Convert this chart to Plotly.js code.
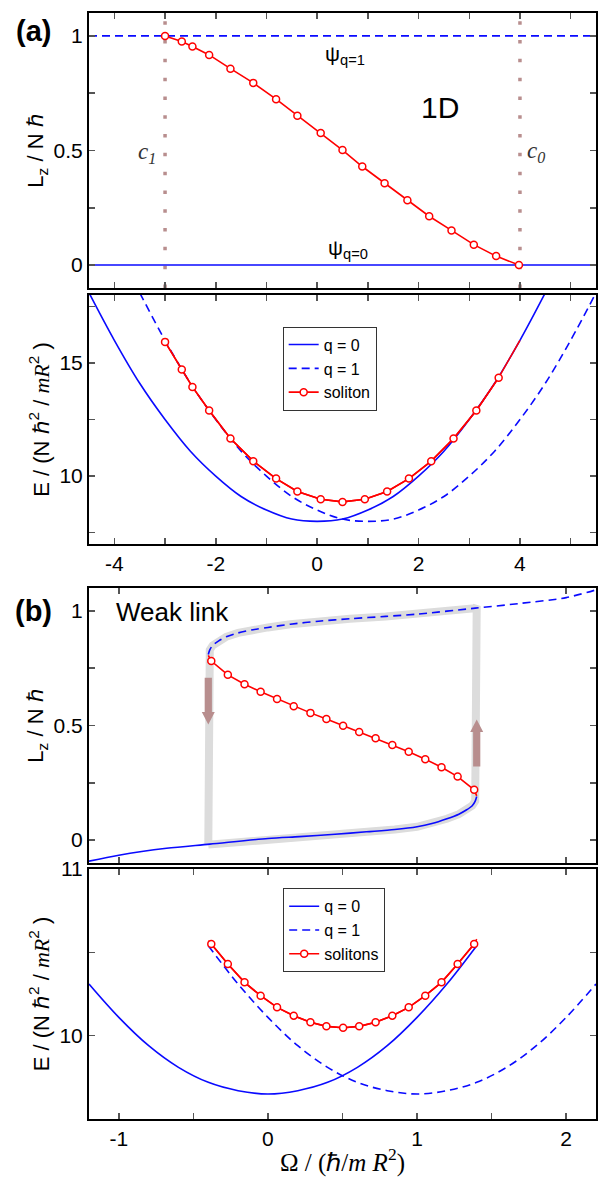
<!DOCTYPE html>
<html>
<head>
<meta charset="utf-8">
<script src="https://cdn.plot.ly/plotly-3.0.1.min.js"></script>
<style>html,body{margin:0;padding:0;background:#fff;}#chart{width:599px;height:1180px;}</style>
</head>
<body>
<div id="chart"></div>
<script>
// ---------- Panel (a) 1D : angular momentum ----------
const omegaSolA_L = [-3.0,-2.67,-2.46,-2.13,-1.71,-1.26,-0.81,-0.39,0.07,0.5,0.89,1.33,1.78,2.21,2.65,3.09,3.53,3.98];
const lzSolA      = [1.0,0.976,0.954,0.917,0.857,0.795,0.724,0.652,0.576,0.502,0.43,0.357,0.283,0.213,0.151,0.089,0.039,0.0];
const criticalOmegaA = [-3, 4];           // c1, c0
const criticalLabelsA = ['<i>c<sub>1</sub></i>', '<i>c<sub>0</sub></i>'];
const lzPlaneWaves = [0, 1];              // psi q=0, psi q=1
const omegaSpanA = [-4.5, 5.5];
const xTicksA = [-4, -2, 0, 2, 4];
const xTickTextA = ['-4', '-2', '0', '2', '4'];

// ---------- Panel (a) 1D : energy ----------
const omegaQ0A = [-4.5,-4,-3.5,-3,-2.5,-2,-1.5,-1,-0.5,0,0.5,1,1.5,2,2.5,3,3.5,4,4.5];
const energyQ0A = [18.1,16.0,14.1,12.5,11.1,10.0,9.1,8.5,8.1,8.0,8.1,8.5,9.1,10.0,11.1,12.5,14.1,16.0,18.1];
const omegaQ1A = [-3.5,-3,-2.5,-2,-1.5,-1,-0.5,0,0.5,1,1.5,2,2.5,3,3.5,4,4.5,5,5.5];
const energyQ1A = [18.1,16.0,14.1,12.5,11.1,10.0,9.1,8.5,8.1,8.0,8.1,8.5,9.1,10.0,11.1,12.5,14.1,16.0,18.1];
const omegaSolA_E = [-3.0,-2.67,-2.46,-2.13,-1.71,-1.26,-0.81,-0.39,0.07,0.5,0.94,1.38,1.81,2.25,2.69,3.14,3.58];
const energySolA  = [15.93,14.71,13.94,12.9,11.66,10.66,9.89,9.32,8.98,8.86,8.98,9.32,9.89,10.66,11.66,12.9,14.35];
const solAEndOmega = 4.0, solAEndEnergy = 16.0;

// ---------- Panel (b) weak link : angular momentum ----------
const omegaQ0B_L = [-1.2,-1.0,-0.68,-0.39,0,0.21,0.45,0.66,0.85,1.0,1.1,1.2,1.28,1.33,1.37,1.39,1.4];
const lzQ0B      = [-0.092,-0.066,-0.036,-0.018,0.007,0.015,0.025,0.036,0.046,0.058,0.072,0.093,0.113,0.131,0.15,0.17,0.19];
const omegaQ1B_L = [-0.4,-0.39,-0.37,-0.33,-0.28,-0.2,-0.1,0,0.15,0.34,0.55,0.79,1.0,1.39,1.68,2.0,2.2];
const lzQ1B      = [0.81,0.83,0.85,0.869,0.887,0.904,0.918,0.928,0.942,0.955,0.966,0.976,0.986,1.012,1.032,1.058,1.092];
const omegaSolB  = [-0.38,-0.269,-0.157,-0.049,0.061,0.173,0.285,0.392,0.504,0.612,0.722,0.834,0.944,1.055,1.164,1.272,1.383];
const lzSolB     = [0.781,0.721,0.680,0.647,0.616,0.584,0.555,0.528,0.499,0.472,0.444,0.415,0.385,0.353,0.318,0.277,0.219];
const solBEndsOmega = [-0.4, 1.4];
const solBEndsLz    = [0.806, 0.193];
const hysteresisOmega = [-0.4, 1.4];
const hysteresisLowStart = -0.02;
const arrowDown = {omega: -0.4, from: 0.708, to: 0.504};
const arrowUp   = {omega: 1.4,  from: 0.321, to: 0.526};
const xTicksB = [-1, 0, 1, 2];
const xTickTextB = ['-1', '0', '1', '2'];

// ---------- Panel (b) weak link : energy ----------
const omegaQ0B_E = [-1.2,-1.0,-0.8,-0.6,-0.4,-0.2,0,0.2,0.4,0.6,0.8,1.0,1.2,1.4];
const energyQ0B  = [10.31,10.11,9.94,9.81,9.72,9.67,9.65,9.67,9.72,9.81,9.94,10.11,10.31,10.54];
const omegaQ1B_E = [-0.4,-0.2,0,0.2,0.4,0.6,0.8,1.0,1.2,1.4,1.6,1.8,2.0,2.2];
const energyQ1B  = [10.54,10.31,10.11,9.94,9.81,9.72,9.67,9.65,9.67,9.72,9.81,9.94,10.11,10.31];
const energySolB = [10.55,10.43,10.32,10.24,10.17,10.12,10.08,10.056,10.048,10.056,10.08,10.12,10.17,10.24,10.32,10.43,10.55];
const solBEndsEnergy = [10.57, 10.58];

// ---------- styling ----------
const SANS = 'Liberation Sans, Arial, Helvetica, sans-serif';
const SERIF = 'Liberation Serif, Times New Roman, serif';
const BLUE = '#0a0aff', RED = '#ff0000', GRAY = '#dcdcdc', ROSE = '#b88e8e';
const DASH = '8px,5px';
const marker = {symbol:'circle', size:7, color:'#ffffff', line:{color:RED, width:1.5}};

// plot-area geometry (px) used to size the arrows drawn in data units
const W = 599, H = 1180, M = {l:89, r:3, t:13, b:61};
const domB1 = [0.2315, 0.4801], rangeXB = [-1.2, 2.2], rangeL = [-0.1, 1.1];
const pxPerOmegaB = (W - M.l - M.r) / (rangeXB[1] - rangeXB[0]);
const pxPerLB = (H - M.t - M.b) * (domB1[1] - domB1[0]) / (rangeL[1] - rangeL[0]);
const ARROW = {shaftHalf:3.6, headHalf:6.5, headLen:12.5};   // px

function arrowPolygon(a) {
  const dir = Math.sign(a.to - a.from);
  const sx = ARROW.shaftHalf / pxPerOmegaB, hx = ARROW.headHalf / pxPerOmegaB;
  const base = a.to - dir * ARROW.headLen / pxPerLB;
  return {
    x: [a.omega - sx, a.omega + sx, a.omega + sx, a.omega + hx, a.omega, a.omega - hx, a.omega - sx, a.omega - sx],
    y: [a.from, a.from, base, base, a.to, base, base, a.from]
  };
}

const traces = [];
// (a) top
criticalOmegaA.forEach(c => traces.push({x:[c,c], y:rangeL, xaxis:'x', yaxis:'y', mode:'lines',
  line:{color:ROSE, width:3.5, dash:'3.5px,15.3px'}, showlegend:false, hoverinfo:'skip'}));
traces.push({x:omegaSpanA, y:[lzPlaneWaves[1],lzPlaneWaves[1]], xaxis:'x', yaxis:'y', mode:'lines', line:{color:BLUE,width:1.6,dash:DASH}, showlegend:false});
traces.push({x:omegaSpanA, y:[lzPlaneWaves[0],lzPlaneWaves[0]], xaxis:'x', yaxis:'y', mode:'lines', line:{color:BLUE,width:1.6}, showlegend:false});
traces.push({x:omegaSolA_L, y:lzSolA, xaxis:'x', yaxis:'y', mode:'lines+markers', line:{color:RED,width:1.6}, marker:marker, showlegend:false});
// (a) bottom
traces.push({x:omegaQ0A, y:energyQ0A, xaxis:'x2', yaxis:'y2', mode:'lines', line:{color:BLUE,width:1.6,shape:'spline'}, name:'q = 0', legend:'legend'});
traces.push({x:omegaQ1A, y:energyQ1A, xaxis:'x2', yaxis:'y2', mode:'lines', line:{color:BLUE,width:1.6,shape:'spline',dash:DASH}, name:'q = 1', legend:'legend'});
traces.push({x:omegaSolA_E.concat([solAEndOmega]), y:energySolA.concat([solAEndEnergy]), xaxis:'x2', yaxis:'y2', mode:'lines', line:{color:RED,width:1.6}, showlegend:false});
traces.push({x:omegaSolA_E, y:energySolA, xaxis:'x2', yaxis:'y2', mode:'lines+markers', line:{color:RED,width:1.6}, marker:marker, name:'soliton', legend:'legend'});

// (b) top: hysteresis loop built from the branches
const loopX = [hysteresisOmega[0]], loopY = [hysteresisLowStart];
omegaQ1B_L.forEach((o,i)=>{ if (o <= hysteresisOmega[1]) { loopX.push(o); loopY.push(lzQ1B[i]); }});
loopX.push(hysteresisOmega[1]); loopY.push(lzQ1B[omegaQ1B_L.findIndex(o=>o>hysteresisOmega[1])-1] + 0.01);
for (let i = omegaQ0B_L.length-1; i >= 0; i--) { if (omegaQ0B_L[i] >= hysteresisOmega[0]) { loopX.push(omegaQ0B_L[i]); loopY.push(lzQ0B[i]); } }
loopX.push(hysteresisOmega[0]); loopY.push(hysteresisLowStart);
traces.push({x:loopX, y:loopY, xaxis:'x3', yaxis:'y3', mode:'lines', line:{color:GRAY,width:8}, showlegend:false, hoverinfo:'skip'});
[arrowDown, arrowUp].forEach(a => { const p = arrowPolygon(a);
  traces.push({x:p.x, y:p.y, xaxis:'x3', yaxis:'y3', mode:'lines', fill:'toself', fillcolor:ROSE, line:{width:0, color:ROSE}, showlegend:false, hoverinfo:'skip'}); });
traces.push({x:omegaQ0B_L, y:lzQ0B, xaxis:'x3', yaxis:'y3', mode:'lines', line:{color:BLUE,width:1.6,shape:'spline',smoothing:0.8}, showlegend:false});
traces.push({x:omegaQ1B_L, y:lzQ1B, xaxis:'x3', yaxis:'y3', mode:'lines', line:{color:BLUE,width:1.6,shape:'spline',smoothing:0.8,dash:DASH}, showlegend:false});
traces.push({x:[solBEndsOmega[0]].concat(omegaSolB,[solBEndsOmega[1]]), y:[solBEndsLz[0]].concat(lzSolB,[solBEndsLz[1]]), xaxis:'x3', yaxis:'y3', mode:'lines', line:{color:RED,width:1.6}, showlegend:false});
traces.push({x:omegaSolB, y:lzSolB, xaxis:'x3', yaxis:'y3', mode:'markers', marker:marker, showlegend:false});

// (b) bottom
traces.push({x:omegaQ0B_E, y:energyQ0B, xaxis:'x4', yaxis:'y4', mode:'lines', line:{color:BLUE,width:1.6,shape:'spline'}, name:'q = 0', legend:'legend2'});
traces.push({x:omegaQ1B_E, y:energyQ1B, xaxis:'x4', yaxis:'y4', mode:'lines', line:{color:BLUE,width:1.6,shape:'spline',dash:DASH}, name:'q = 1', legend:'legend2'});
traces.push({x:[solBEndsOmega[0]].concat(omegaSolB,[solBEndsOmega[1]]), y:[solBEndsEnergy[0]].concat(energySolB,[solBEndsEnergy[1]]), xaxis:'x4', yaxis:'y4', mode:'lines', line:{color:RED,width:1.6}, showlegend:false});
traces.push({x:omegaSolB, y:energySolB, xaxis:'x4', yaxis:'y4', mode:'lines+markers', line:{color:RED,width:1.6}, marker:marker, name:'solitons', legend:'legend2'});

const TICKSTYLE = {ticks:'inside', ticklen:6, tickwidth:1.5, tickcolor:'#555'};
function ax(extra) {
  return Object.assign({
    showline:true, linewidth:2, linecolor:'#000', mirror:'ticks', showgrid:false, zeroline:false,
    tickfont:{family:SANS,size:21,color:'#000'}, fixedrange:true
  }, TICKSTYLE, extra);
}
function minor(dtick) { return Object.assign({dtick:dtick, tick0:0, showgrid:false}, TICKSTYLE); }
const LZTITLE = 'L<sub>z</sub> / N ℏ';
const ETITLE = 'E / (N ℏ<sup>2</sup> / <span style="font-family:Liberation Serif"><i>mR</i></span><sup>2</sup> )';
const titleFont = {family:SANS, size:22, color:'#000'};

const layout = {
  width:W, height:H, margin:M, paper_bgcolor:'#fff', plot_bgcolor:'#fff',
  font:{family:SANS, color:'#000'},
  xaxis: ax({domain:[0,1], anchor:'y', range:omegaSpanA, tick0:0, dtick:1, showticklabels:false}),
  yaxis: ax({domain:[0.7514,1], anchor:'x', range:rangeL, tick0:0, dtick:0.5, minor:minor(0.25),
    title:{text:LZTITLE, font:titleFont, standoff:4}}),
  xaxis2: ax({domain:[0,1], anchor:'y2', range:omegaSpanA, tickmode:'array', tickvals:xTicksA, ticktext:xTickTextA, minor:minor(1)}),
  yaxis2: ax({domain:[0.5199,0.745], anchor:'x2', range:[7,18], tick0:0, dtick:5, minor:minor(2.5),
    title:{text:ETITLE, font:titleFont, standoff:4}}),
  xaxis3: ax({domain:[0,1], anchor:'y3', range:rangeXB, tick0:0, dtick:1, showticklabels:false}),
  yaxis3: ax({domain:domB1, anchor:'x3', range:rangeL, tick0:0, dtick:0.5, minor:minor(0.25),
    title:{text:LZTITLE, font:titleFont, standoff:4}}),
  xaxis4: ax({domain:[0,1], anchor:'y4', range:rangeXB, tickmode:'array', tickvals:xTicksB, ticktext:xTickTextB, minor:minor(0.5),
    title:{text:'Ω / (ℏ/<i>m R</i><sup>2</sup>)', font:{family:SERIF,size:25,color:'#000'}, standoff:4}}),
  yaxis4: ax({domain:[0,0.226], anchor:'x4', range:[9.5,11], tick0:0, dtick:1, minor:minor(0.5),
    title:{text:ETITLE, font:titleFont, standoff:4}}),
  legend: {x:0.382, y:0.7164, xanchor:'left', yanchor:'top', bgcolor:'#fff', bordercolor:'#333', borderwidth:1,
    font:{family:SANS,size:16,color:'#000'}, traceorder:'normal', tracegroupgap:0},
  legend2: {x:0.383, y:0.2086, xanchor:'left', yanchor:'top', bgcolor:'#fff', bordercolor:'#333', borderwidth:1,
    font:{family:SANS,size:16,color:'#000'}, traceorder:'normal', tracegroupgap:0},
  annotations: [
    {text:'<b>(a)</b>', xref:'paper', yref:'paper', x:-0.110, y:0.984, xanchor:'center', yanchor:'middle', showarrow:false, font:{family:SANS,size:29,color:'#000'}},
    {text:'<b>(b)</b>', xref:'paper', yref:'paper', x:-0.110, y:0.4589, xanchor:'center', yanchor:'middle', showarrow:false, font:{family:SANS,size:29,color:'#000'}},
    {text:'1D', xref:'x', yref:'y', x:2.42, y:0.686, showarrow:false, font:{family:SANS,size:30,color:'#000'}},
    {text:'ψ<sub>q=1</sub>', xref:'x', yref:'y', x:0.55, y:0.918, showarrow:false, font:{family:SANS,size:21,color:'#000'}},
    {text:'ψ<sub>q=0</sub>', xref:'x', yref:'y', x:0.6, y:0.072, showarrow:false, font:{family:SANS,size:21,color:'#000'}},
    {text:criticalLabelsA[0], xref:'x', yref:'y', x:-3.35, y:0.49, showarrow:false, font:{family:SERIF,size:23,color:'#333'}},
    {text:criticalLabelsA[1], xref:'x', yref:'y', x:4.31, y:0.495, showarrow:false, font:{family:SERIF,size:23,color:'#333'}},
    {text:'Weak link', xref:'x3', yref:'y3', x:-0.64, y:0.994, showarrow:false, font:{family:SANS,size:26,color:'#000'}}
  ]
};
Plotly.newPlot('chart', traces, layout, {displayModeBar:false, staticPlot:true});
</script>
</body>
</html>
